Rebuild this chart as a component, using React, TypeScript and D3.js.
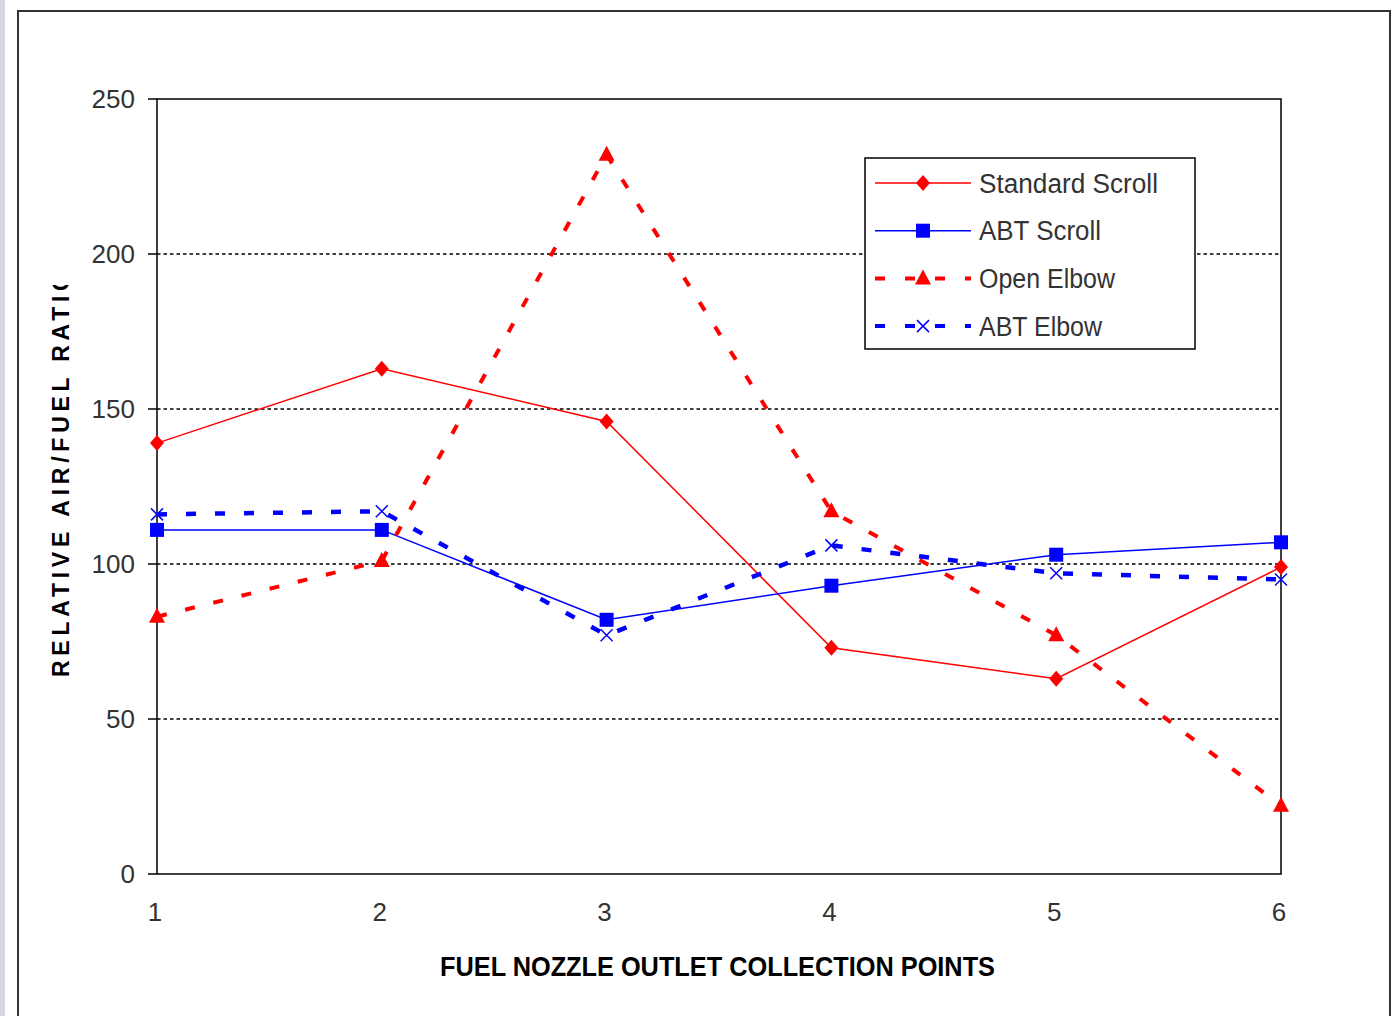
import React, { useEffect, useRef } from "react";
import * as d3 from "d3";

const points = [1, 2, 3, 4, 5, 6];
const standardScroll = [139, 163, 146, 73, 63, 99];
const abtScroll = [111, 111, 82, 93, 103, 107];
const openElbow = [83, 101, 232, 117, 77, 22];
const abtElbow = [116, 117, 77, 106, 97, 95];
const yTicks = [0, 50, 100, 150, 200, 250];
const gridValues = [50, 100, 150, 200];

type Series = {
  name: string;
  values: number[];
  color: string;
  width: number;
  dash: string | null;
  marker: "diamond" | "square" | "triangle" | "x";
  legendLen: number;
};

const series: Series[] = [
  { name: "Standard Scroll", values: standardScroll, color: "#ff0000", width: 1.5, dash: null, marker: "diamond", legendLen: 179 },
  { name: "ABT Scroll", values: abtScroll, color: "#0000ff", width: 1.5, dash: null, marker: "square", legendLen: 122 },
  { name: "Open Elbow", values: openElbow, color: "#ff0000", width: 4, dash: "10,19", marker: "triangle", legendLen: 136 },
  { name: "ABT Elbow", values: abtElbow, color: "#0000ff", width: 4.5, dash: "10,19", marker: "x", legendLen: 123 },
];

const W = 1391;
const H = 1016;
const sans = "'Liberation Sans', Arial, sans-serif";

function drawMarker(g: d3.Selection<SVGGElement, unknown, null, undefined>, kind: Series["marker"], x: number, y: number, color: string) {
  if (kind === "diamond") {
    g.append("path").attr("d", `M${x},${y - 8}L${x + 7},${y}L${x},${y + 8}L${x - 7},${y}Z`).attr("fill", color);
  } else if (kind === "square") {
    g.append("rect").attr("x", x - 7).attr("y", y - 7).attr("width", 14).attr("height", 14).attr("fill", color);
  } else if (kind === "triangle") {
    g.append("path").attr("d", `M${x},${y - 9}L${x + 8},${y + 6}L${x - 8},${y + 6}Z`).attr("fill", color);
  } else {
    g.append("path")
      .attr("d", `M${x - 6},${y - 6}L${x + 6},${y + 6}M${x + 6},${y - 6}L${x - 6},${y + 6}`)
      .attr("stroke", color)
      .attr("stroke-width", 1.5)
      .attr("fill", "none");
  }
}

export default function App() {
  const ref = useRef<SVGSVGElement>(null);

  useEffect(() => {
    const svg = d3.select(ref.current);
    svg.selectAll("*").remove();

    // page background and outer chart frame
    svg.append("rect").attr("x", 0).attr("y", 0).attr("width", W).attr("height", H).attr("fill", "#ffffff");
    svg.append("rect").attr("x", 0).attr("y", 0).attr("width", 5).attr("height", H).attr("fill", "#d3d6df");
    svg.append("path")
      .attr("d", `M18,${H + 5}V11H1390V${H + 5}`)
      .attr("fill", "none")
      .attr("stroke", "#333")
      .attr("stroke-width", 2);

    const x = d3.scaleLinear().domain([1, 6]).range([157, 1281]);
    const y = d3.scaleLinear().domain([0, 250]).range([874, 99]);

    // dashed horizontal gridlines
    svg.append("g")
      .selectAll("line")
      .data(gridValues)
      .join("line")
      .attr("x1", x(1))
      .attr("x2", x(6))
      .attr("y1", (d) => y(d))
      .attr("y2", (d) => y(d))
      .attr("stroke", "#000")
      .attr("stroke-width", 1.5)
      .attr("stroke-dasharray", "3.5,3");

    // plot frame
    svg.append("path")
      .attr("d", `M${x(1)},${y(0)}V${y(250)}H${x(6)}V${y(0)}Z`)
      .attr("fill", "none")
      .attr("stroke", "#000")
      .attr("stroke-width", 1.5);

    // y axis ticks and labels
    const yAxis = svg.append("g");
    yAxis.selectAll("line")
      .data(yTicks)
      .join("line")
      .attr("x1", x(1) - 9)
      .attr("x2", x(1))
      .attr("y1", (d) => y(d))
      .attr("y2", (d) => y(d))
      .attr("stroke", "#000")
      .attr("stroke-width", 1.5);
    yAxis.selectAll("text")
      .data(yTicks)
      .join("text")
      .attr("x", x(1) - 22)
      .attr("y", (d) => y(d))
      .attr("dy", "0.36em")
      .attr("text-anchor", "end")
      .attr("font-family", sans)
      .attr("font-size", 26)
      .attr("fill", "#333")
      .text((d) => String(d));

    // x axis labels
    svg.append("g")
      .selectAll("text")
      .data(points)
      .join("text")
      .attr("x", (d) => x(d) - 2)
      .attr("y", 912)
      .attr("dy", "0.36em")
      .attr("text-anchor", "middle")
      .attr("font-family", sans)
      .attr("font-size", 26)
      .attr("fill", "#333")
      .text((d) => String(d));

    // axis titles
    svg.append("text")
      .attr("x", 440)
      .attr("y", 966)
      .attr("dy", "0.36em")
      .attr("text-anchor", "start")
      .attr("font-family", sans)
      .attr("font-weight", "bold")
      .attr("font-size", 28)
      .attr("textLength", 555)
      .attr("lengthAdjust", "spacingAndGlyphs")
      .attr("fill", "#000")
      .text("FUEL  NOZZLE OUTLET COLLECTION POINTS");

    const clip = svg.append("defs").append("clipPath").attr("id", "ytitle-clip");
    clip.append("rect").attr("x", 30).attr("y", 285).attr("width", 60).attr("height", 420);
    svg.append("g")
      .attr("clip-path", "url(#ytitle-clip)")
      .append("text")
      .attr("transform", `translate(69,677) rotate(-90)`)
      .attr("text-anchor", "start")
      .attr("font-family", sans)
      .attr("font-weight", "bold")
      .attr("font-size", 23)
      .attr("textLength", 404)
      .attr("lengthAdjust", "spacing")
      .attr("fill", "#000")
      .text("RELATIVE AIR/FUEL RATIO");

    // series lines and markers
    series.forEach((s) => {
      const line = d3.line<number>()
        .x((_, i) => x(points[i]))
        .y((d) => y(d));
      svg.append("path")
        .datum(s.values)
        .attr("d", line)
        .attr("fill", "none")
        .attr("stroke", s.color)
        .attr("stroke-width", s.width)
        .attr("stroke-dasharray", s.dash ?? null);
      const mg = svg.append("g");
      s.values.forEach((v, i) => drawMarker(mg, s.marker, x(points[i]), y(v), s.color));
    });

    // legend
    const lg = svg.append("g");
    lg.append("rect")
      .attr("x", 865)
      .attr("y", 158)
      .attr("width", 330)
      .attr("height", 191)
      .attr("fill", "#fff")
      .attr("stroke", "#000")
      .attr("stroke-width", 1.5);
    series.forEach((s, i) => {
      const cy = 183 + i * 47.7;
      lg.append("line")
        .attr("x1", 875)
        .attr("x2", 971)
        .attr("y1", cy)
        .attr("y2", cy)
        .attr("stroke", s.color)
        .attr("stroke-width", s.dash ? 4 : 1.5)
        .attr("stroke-dasharray", s.dash ? "10,20" : null);
      const mg = lg.append("g");
      drawMarker(mg, s.marker, 923, cy, s.color);
      lg.append("text")
        .attr("x", 979)
        .attr("y", cy)
        .attr("dy", "0.36em")
        .attr("font-family", sans)
        .attr("font-size", 27)
        .attr("textLength", s.legendLen)
        .attr("lengthAdjust", "spacingAndGlyphs")
        .attr("fill", "#333")
        .text(s.name);
    });
  }, []);

  return (
    <svg
      ref={ref}
      width={W}
      height={H}
      style={{ position: "absolute", left: 0, top: 0, display: "block" }}
    />
  );
}
